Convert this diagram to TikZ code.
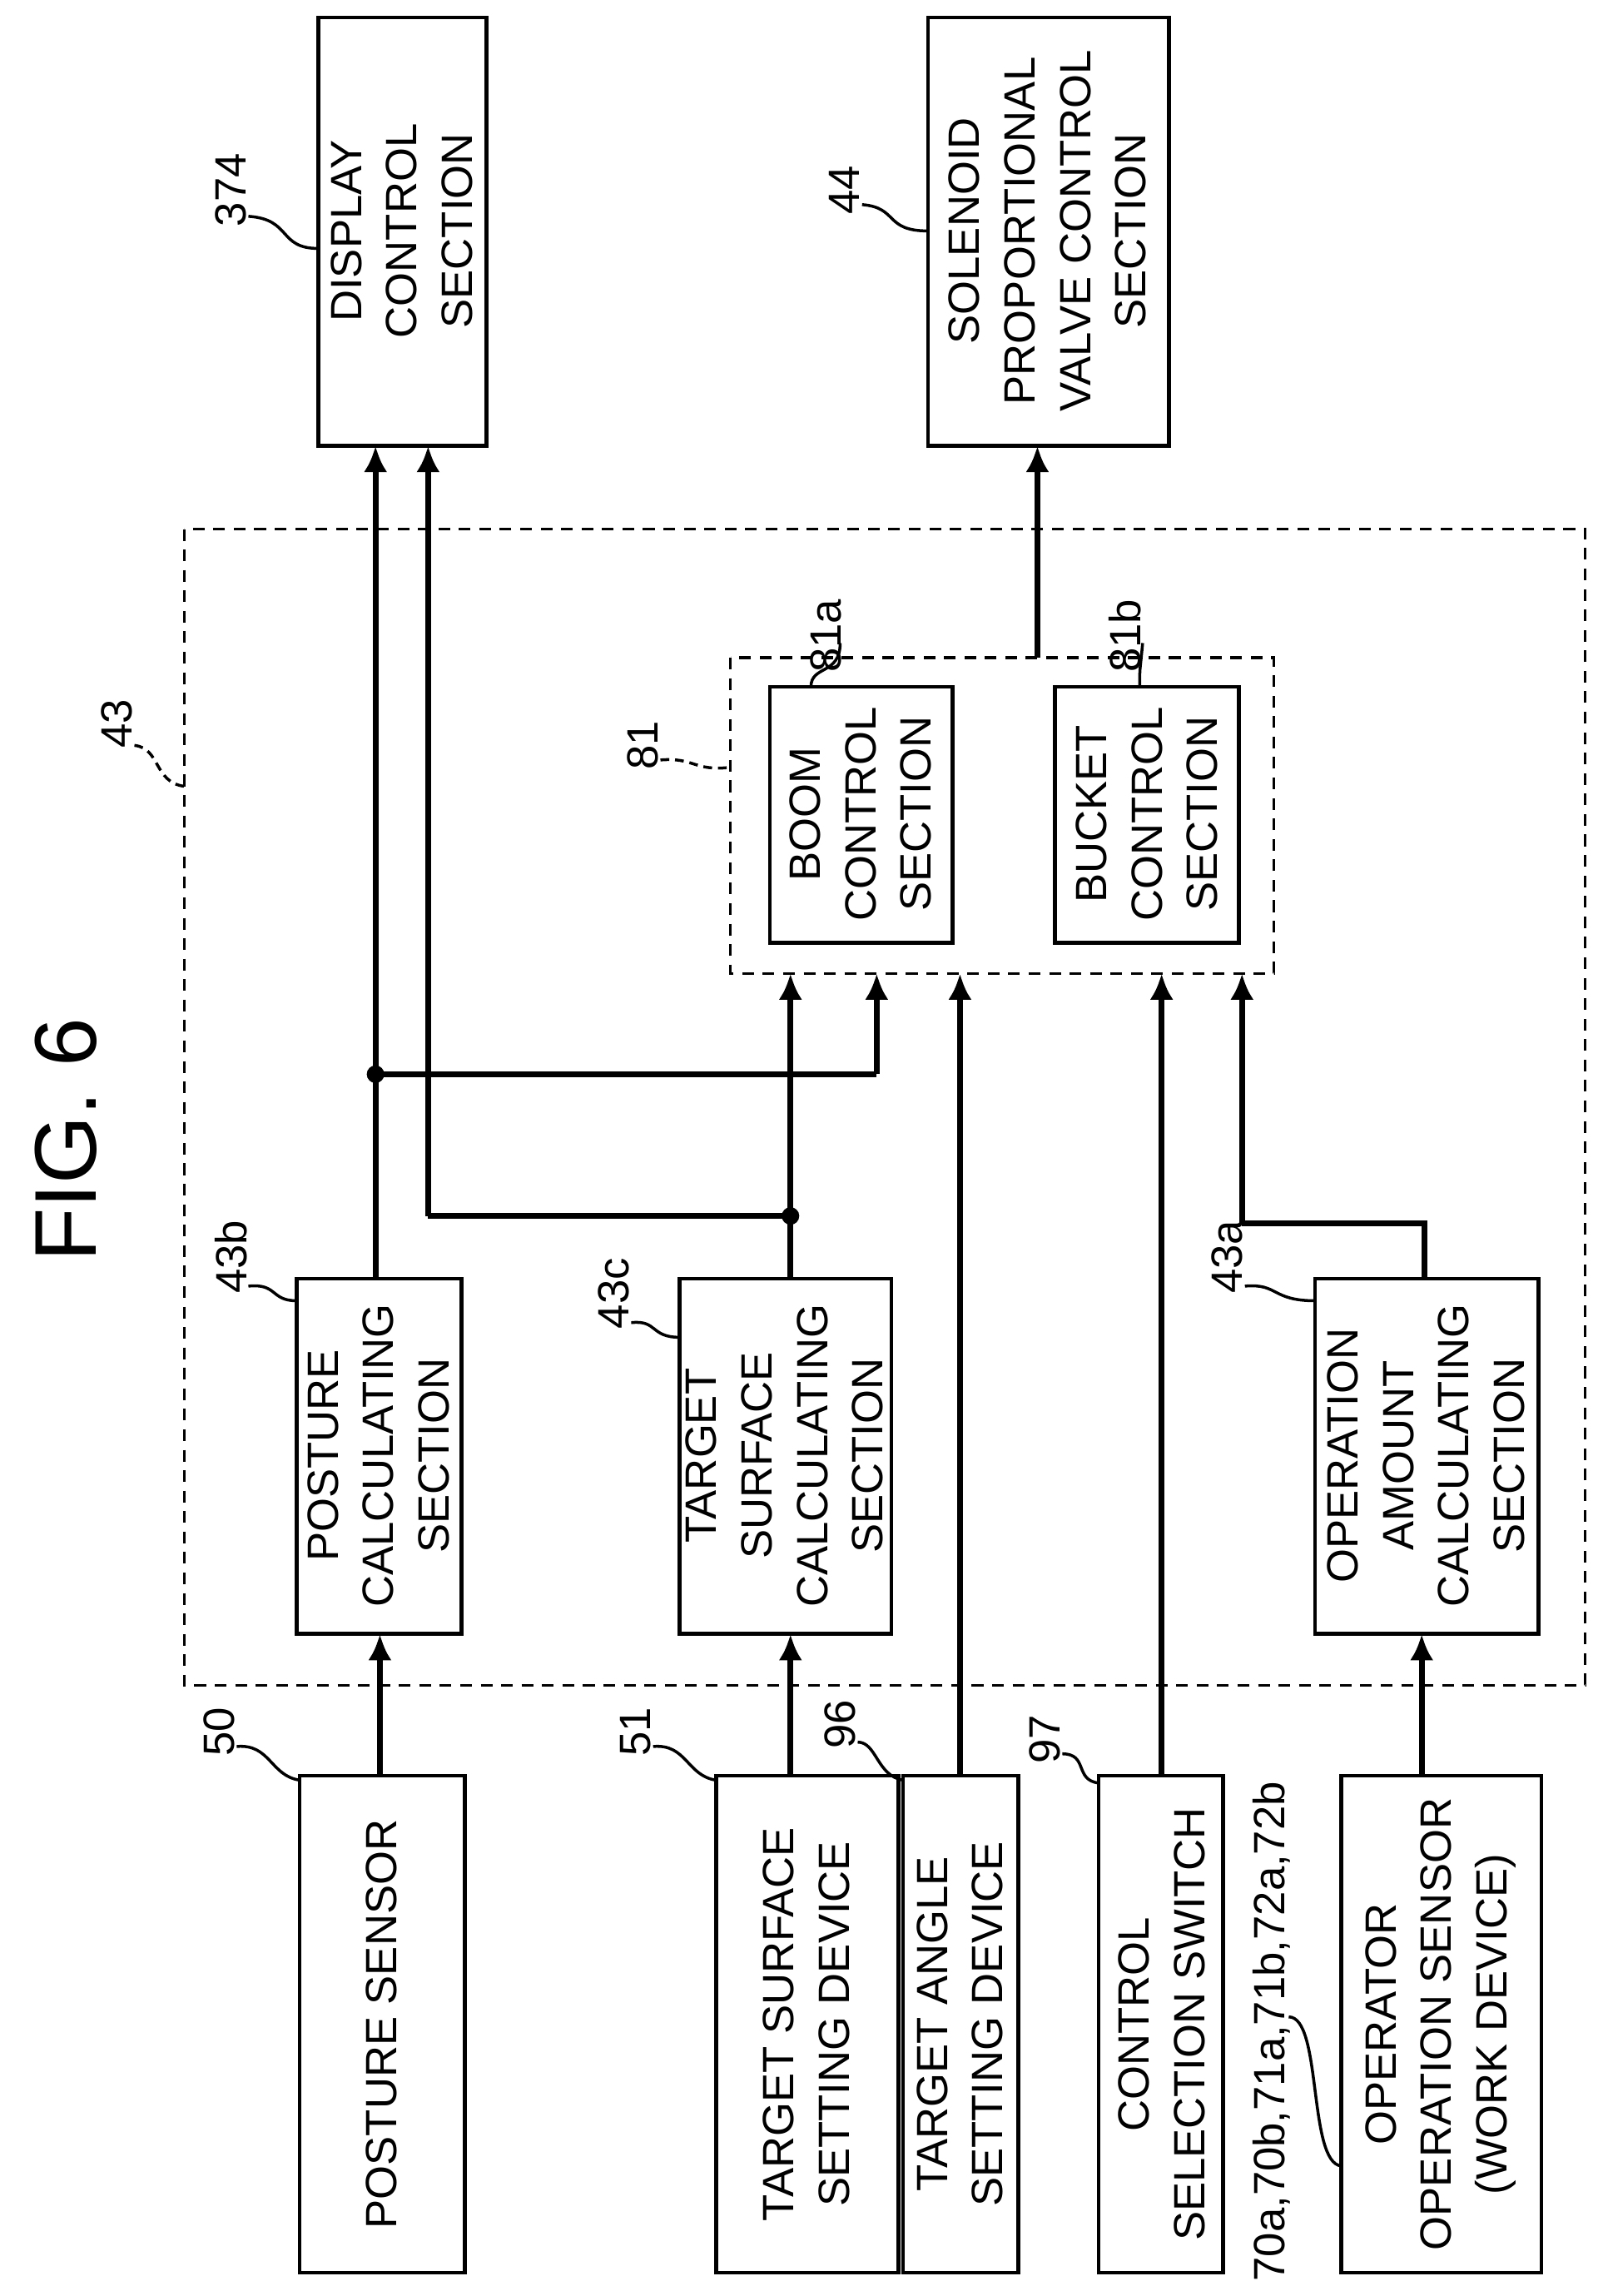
\documentclass[tikz,border=0pt]{standalone}
\usepackage{fontspec}
\setmainfont{Liberation Sans}
\usetikzlibrary{arrows.meta}
\begin{document}
\begin{tikzpicture}[x=0.5pt,y=-0.5pt,
  box/.style={draw,line width=1.3pt},
  txt/.style={rotate=90,align=center,font=\fontsize{15}{19}\selectfont},
  lab/.style={rotate=90,font=\fontsize{15}{18}\selectfont},
  ar/.style={line width=2pt,-{Latex[length=9pt,width=8pt]}},
  ln/.style={line width=2pt},
  lead/.style={line width=1pt},
  dsh/.style={draw,line width=0.9pt,dash pattern=on 4pt off 3pt}]
\useasboundingbox (0,0) rectangle (1100,1571);
\node[lab,font=\fontsize{30}{34}\selectfont] (fig) at (45,780) {FIG. 6};
% boxes
\draw[box] (218,12) rectangle (333,305); \node[txt] (dc) at (275,158) {DISPLAY\\CONTROL\\SECTION};
\draw[box] (635,12) rectangle (800,305); \node[txt] (sv) at (717,158) {SOLENOID\\PROPORTIONAL\\VALVE CONTROL\\SECTION};
\draw[dsh] (126,362) rectangle (1085,1153);
\draw[dsh] (500,450) rectangle (872,666);
\draw[box] (527,470) rectangle (652,645); \node[txt] (bo) at (589,557) {BOOM\\CONTROL\\SECTION};
\draw[box] (722,470) rectangle (848,645); \node[txt] (bu) at (785,557) {BUCKET\\CONTROL\\SECTION};
\draw[box] (203,875) rectangle (316,1118); \node[txt] (pc) at (259,996) {POSTURE\\CALCULATING\\SECTION};
\draw[box] (465,875) rectangle (610,1118); \node[txt] (tc) at (537,996) {TARGET\\SURFACE\\CALCULATING\\SECTION};
\draw[box] (900,875) rectangle (1053,1118); \node[txt] (oc) at (976,996) {OPERATION\\AMOUNT\\CALCULATING\\SECTION};
\draw[box] (205,1215) rectangle (318,1555); \node[txt] (ps) at (261,1385) {POSTURE SENSOR};
\draw[box] (490,1215) rectangle (615,1555); \node[txt] (ts) at (552,1385) {TARGET SURFACE\\SETTING DEVICE};
\draw[box] (618,1215) rectangle (697,1555); \node[txt] (ta) at (657,1385) {TARGET ANGLE\\SETTING DEVICE};
\draw[box] (752,1215) rectangle (837,1555); \node[txt] (cs) at (795,1385) {CONTROL\\SELECTION SWITCH};
\draw[box] (918,1215) rectangle (1055,1555); \node[txt] (os) at (986,1385) {OPERATOR\\OPERATION SENSOR\\(WORK DEVICE)};
% arrows
\draw[ar] (260,1215) -- (260,1118);
\draw[ar] (257,875) -- (257,305);
\draw[ln] (257,735) -- (600,735); \draw[ar] (600,735) -- (600,666);
\fill (257,735) circle (6);
\draw[ar] (541,875) -- (541,666);
\draw[ln] (541,832) -- (293,832); \draw[ar] (293,832) -- (293,305);
\fill (541,832) circle (6);
\draw[ar] (541,1215) -- (541,1118);
\draw[ar] (657,1215) -- (657,666);
\draw[ar] (795,1215) -- (795,666);
\draw[ar] (973,1215) -- (973,1118);
\draw[ln] (975,875) -- (975,837) -- (850,837); \draw[ar] (850,837) -- (850,666);
\draw[ar] (710,450) -- (710,305);
% labels
\node[lab] (l374) at (158,130) {374}; \draw[lead] (170,148) .. controls (200,150) and (190,170) .. (218,170);
\node[lab] (l44) at (578,130) {44}; \draw[lead] (590,140) .. controls (615,142) and (605,158) .. (635,158);
\node[lab] (l43) at (80,495) {43}; \draw[lead,dash pattern=on 3pt off 2pt] (92,510) .. controls (110,512) and (105,535) .. (126,538);
\node[lab] (l81) at (440,510) {81}; \draw[lead,dash pattern=on 3pt off 2pt] (452,520) .. controls (475,518) and (475,528) .. (500,525);
\node[lab] (l81a) at (565,435) {81a}; \draw[lead] (555,470) .. controls (555,455) and (575,462) .. (575,440);
\node[lab] (l81b) at (770,435) {81b}; \draw[lead] (780,470) .. controls (780,455) and (780,462) .. (782,440);
\node[lab] (l43b) at (158,860) {43b}; \draw[lead] (170,880) .. controls (190,878) and (185,890) .. (203,890);
\node[lab] (l43c) at (420,885) {43c}; \draw[lead] (432,905) .. controls (450,903) and (445,915) .. (465,915);
\node[lab] (l43a) at (840,860) {43a}; \draw[lead] (852,880) .. controls (875,878) and (870,890) .. (900,890);
\node[lab] (l50) at (150,1185) {50}; \draw[lead] (162,1195) .. controls (185,1193) and (185,1215) .. (205,1218);
\node[lab] (l51) at (435,1185) {51}; \draw[lead] (447,1195) .. controls (470,1193) and (470,1215) .. (490,1218);
\node[lab] (l96) at (575,1180) {96}; \draw[lead] (587,1192) .. controls (600,1192) and (600,1215) .. (618,1218);
\node[lab] (l97) at (715,1190) {97}; \draw[lead] (727,1200) .. controls (745,1200) and (735,1218) .. (752,1220);
\node[lab] (l70) at (870,1390) {70a,70b,71a,71b,72a,72b}; \draw[lead] (882,1380) .. controls (905,1380) and (895,1480) .. (918,1482);
\end{tikzpicture}
\end{document}
